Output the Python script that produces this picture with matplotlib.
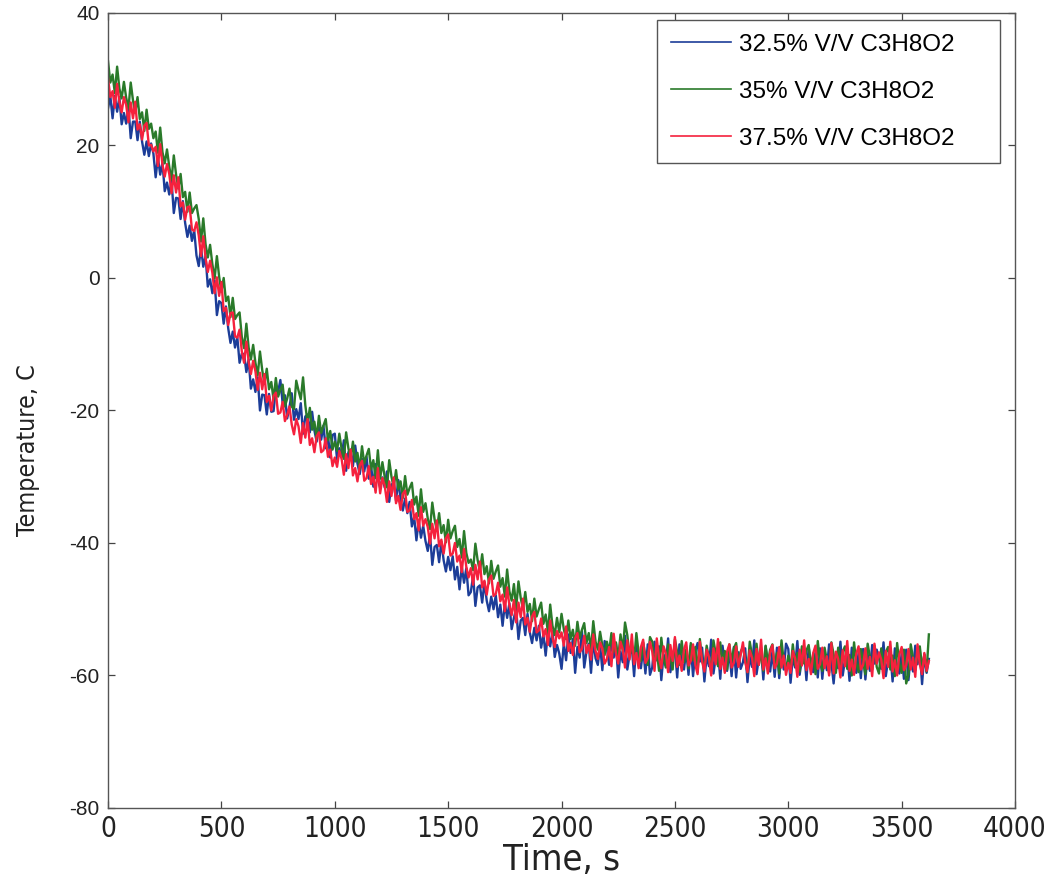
import matplotlib
matplotlib.use("Agg")
import matplotlib.pyplot as plt
from matplotlib import font_manager

# one reading every 10 s, 0 .. 3620 s
time_s = list(range(0, 3621, 10))

temp_325 = [
    25.6, 27.5, 24.1, 27.5, 25.1, 27.3, 23.2, 24.9, 23.3, 25.8, 21.1, 23.6, 23.6, 20.8, 23.6, 20.6, 18.6, 20.6, 18.4, 20.3,
    18.8, 15.2, 18.2, 15.6, 17.4, 13.1, 14.4, 12.6, 14.7, 9.8, 12.1, 12.0, 8.9, 11.6, 8.3, 6.2, 7.9, 5.6, 7.2, 3.4,
    1.8, 4.6, 1.7, 3.3, -1.3, -0.2, -2.3, -0.4, -5.6, -3.5, -3.8, -6.9, -4.3, -7.6, -9.8, -8.1, -10.5, -8.9, -12.8, -11.4,
    -11.5, -14.2, -12.3, -16.7, -15.3, -17.2, -15.0, -20.0, -17.6, -17.7, -20.6, -17.5, -20.2, -20.1, -16.6, -17.2, -15.4, -18.9, -17.7, -21.2,
    -19.5, -17.4, -21.4, -19.8, -21.3, -18.9, -23.5, -20.9, -20.6, -23.3, -20.2, -23.0, -24.7, -22.5, -24.4, -22.3, -25.7, -23.8, -27.1, -23.7,
    -23.5, -27.4, -25.7, -27.1, -24.5, -29.1, -26.3, -25.9, -28.4, -25.3, -28.0, -29.6, -27.3, -29.2, -27.0, -30.3, -28.3, -31.5, -28.1, -30.3,
    -31.7, -30.1, -31.6, -29.2, -33.8, -31.2, -30.9, -33.6, -30.5, -33.4, -35.1, -33.3, -35.5, -33.8, -37.5, -36.0, -39.6, -36.6, -39.2, -37.4,
    -39.7, -41.2, -38.7, -43.3, -40.6, -40.3, -42.9, -39.8, -42.6, -44.3, -42.1, -44.1, -42.0, -45.5, -43.6, -47.0, -43.6, -46.0, -43.8, -47.9,
    -47.4, -44.9, -49.5, -46.7, -46.4, -49.0, -45.9, -48.7, -50.3, -48.1, -50.0, -47.9, -51.2, -49.3, -52.5, -49.1, -51.3, -49.1, -53.0, -51.3,
    -49.9, -54.5, -51.7, -51.3, -53.9, -50.7, -53.5, -55.1, -52.8, -54.7, -52.5, -55.8, -53.8, -57.0, -53.4, -55.6, -53.3, -57.2, -55.4, -56.7,
    -59.0, -55.2, -57.7, -53.8, -56.6, -54.5, -59.6, -55.7, -57.3, -53.3, -58.8, -56.4, -55.2, -59.6, -54.6, -57.4, -58.4, -55.4, -59.2, -54.8,
    -55.9, -58.4, -54.5, -57.3, -55.2, -60.3, -56.4, -58.0, -54.0, -59.1, -56.9, -55.7, -60.1, -55.1, -57.9, -58.9, -55.9, -59.7, -55.3, -59.9,
    -58.8, -54.9, -57.7, -55.6, -60.7, -56.8, -58.4, -54.4, -59.5, -57.1, -55.9, -60.3, -55.3, -58.1, -59.1, -56.1, -59.9, -55.5, -60.1, -56.3,
    -55.1, -57.9, -55.8, -60.9, -57.0, -58.6, -54.6, -59.7, -57.3, -56.1, -60.5, -55.5, -58.3, -59.3, -56.3, -60.1, -55.7, -60.3, -56.5, -59.0,
    -58.0, -55.9, -61.0, -57.1, -58.7, -54.7, -59.8, -57.4, -56.2, -60.6, -55.6, -58.4, -59.4, -56.4, -60.2, -55.8, -60.4, -56.6, -59.1, -55.2,
    -56.0, -61.1, -57.2, -58.8, -54.8, -59.9, -57.5, -56.3, -60.7, -55.7, -58.5, -59.5, -56.5, -60.3, -55.9, -60.5, -56.7, -59.2, -55.3, -58.1,
    -61.2, -57.3, -58.9, -54.9, -60.0, -57.6, -56.4, -60.8, -55.8, -58.6, -59.6, -56.6, -60.4, -56.0, -60.6, -56.8, -59.3, -55.4, -58.2, -56.1,
    -57.4, -59.0, -55.0, -60.1, -57.7, -56.5, -60.9, -55.9, -58.7, -59.7, -56.7, -60.5, -56.1, -60.7, -56.9, -59.4, -55.5, -58.3, -56.2, -61.3,
    -56.8, -59.6, -57.5,
]

temp_35 = [
    32.7, 29.5, 30.7, 27.9, 31.9, 28.6, 27.1, 29.6, 27.2, 25.6, 29.5, 26.8, 24.9, 27.3, 24.0, 25.0, 22.2, 25.4, 22.5, 23.3,
    21.1, 22.1, 18.9, 22.7, 19.0, 17.3, 19.4, 16.8, 14.8, 18.5, 15.6, 13.5, 15.7, 12.2, 13.0, 10.0, 12.9, 9.8, 10.5, 11.0,
    8.9, 5.5, 9.0, 5.1, 3.1, 5.0, 2.1, -0.1, 3.3, 0.2, -2.1, 0.0, -3.5, -2.8, -5.9, -3.0, -6.2, -5.6, -5.2, -8.9,
    -10.6, -6.9, -10.5, -12.3, -10.1, -12.8, -14.7, -11.1, -13.9, -16.0, -13.7, -16.8, -15.7, -18.4, -15.1, -17.9, -16.9, -16.1, -19.4, -18.2,
    -16.7, -19.4, -19.8, -15.5, -17.0, -18.3, -15.0, -19.2, -21.9, -19.6, -22.9, -21.7, -24.2, -20.8, -23.4, -22.3, -21.3, -24.5, -23.1, -25.9,
    -24.7, -26.1, -23.5, -25.8, -27.3, -23.3, -25.7, -27.4, -24.7, -27.7, -26.4, -28.9, -25.4, -28.0, -26.8, -25.8, -28.9, -27.5, -30.2, -26.0,
    -30.3, -27.8, -30.0, -31.6, -27.5, -30.0, -31.6, -29.0, -31.9, -30.7, -33.2, -29.9, -32.7, -31.7, -30.9, -34.2, -33.0, -35.9, -31.9, -35.3,
    -34.0, -36.3, -37.9, -33.9, -36.4, -38.1, -35.5, -38.5, -37.3, -39.9, -36.5, -39.3, -38.2, -37.4, -40.6, -39.4, -42.2, -38.2, -41.5, -43.0,
    -42.5, -44.1, -40.1, -42.6, -44.3, -41.7, -44.7, -43.5, -46.1, -42.7, -45.4, -44.3, -43.4, -46.6, -45.3, -48.1, -44.0, -47.3, -48.7, -46.2,
    -49.8, -45.8, -48.3, -50.0, -47.4, -50.4, -49.2, -51.8, -48.4, -51.1, -50.0, -49.0, -52.2, -50.8, -53.5, -49.3, -52.5, -53.9, -51.3, -53.5,
    -50.7, -53.0, -54.5, -51.7, -54.5, -53.1, -55.5, -51.9, -54.4, -53.1, -52.1, -55.1, -53.6, -56.1, -51.8, -54.9, -56.1, -53.4, -55.5, -56.9,
    -54.9, -56.4, -53.6, -56.4, -55.0, -57.4, -53.8, -56.3, -52.0, -53.9, -56.9, -55.4, -57.9, -53.6, -56.6, -57.8, -55.0, -57.1, -58.4, -54.2,
    -54.9, -58.3, -56.2, -59.3, -54.3, -57.5, -58.8, -55.3, -57.2, -59.1, -54.5, -56.5, -58.4, -54.8, -58.0, -56.1, -58.9, -55.1, -57.7, -55.7,
    -59.5, -54.5, -57.7, -59.0, -55.5, -57.4, -59.3, -54.7, -56.7, -58.6, -55.0, -58.2, -56.3, -59.1, -55.3, -57.9, -55.9, -55.1, -58.5, -56.4,
    -55.7, -57.6, -59.5, -54.9, -56.9, -58.8, -55.2, -58.4, -56.5, -59.3, -55.5, -58.1, -56.1, -55.3, -58.7, -56.6, -59.7, -54.7, -57.9, -59.2,
    -57.0, -58.9, -55.3, -58.5, -56.6, -59.4, -55.6, -58.2, -56.2, -55.4, -58.8, -56.7, -59.8, -54.8, -58.0, -59.3, -55.8, -57.7, -59.6, -55.0,
    -56.8, -59.6, -55.8, -58.4, -56.4, -55.6, -59.0, -56.9, -60.0, -55.0, -58.2, -59.5, -56.0, -57.9, -59.8, -55.2, -57.2, -59.1, -55.5, -58.7,
    -59.7, -55.9, -58.5, -56.5, -55.7, -59.1, -57.0, -60.1, -55.1, -58.3, -59.6, -56.1, -61.2, -59.9, -55.3, -57.3, -59.2, -56.4, -55.6, -58.8,
    -56.9, -59.4, -53.8,
]

temp_375 = [
    30.1, 27.3, 28.2, 25.7, 29.3, 26.6, 25.0, 27.3, 26.1, 23.5, 26.5, 24.1, 26.6, 22.4, 23.2, 20.9, 23.0, 23.4, 20.0, 20.1,
    19.1, 19.8, 16.9, 20.2, 17.1, 15.3, 17.2, 15.7, 12.8, 15.5, 12.9, 15.2, 10.8, 11.4, 8.8, 10.7, 10.8, 7.3, 7.1, 8.4,
    6.4, 3.3, 6.3, 3.0, 0.9, 2.6, 0.8, -2.3, 0.1, -2.7, -0.6, -5.0, -4.5, -7.1, -5.3, -5.2, -8.8, -9.0, -7.8, -11.1,
    -12.8, -9.6, -12.6, -14.5, -12.5, -14.1, -16.9, -14.3, -16.8, -14.5, -18.7, -17.8, -20.0, -17.8, -17.3, -20.5, -20.3, -18.7, -21.6, -20.7,
    -19.4, -22.1, -23.6, -21.3, -22.4, -24.9, -21.9, -24.1, -21.3, -25.2, -24.2, -26.3, -23.9, -23.3, -26.3, -26.0, -24.2, -27.0, -25.9, -28.4,
    -27.1, -28.5, -26.1, -27.3, -29.7, -26.6, -28.7, -25.9, -29.8, -28.7, -30.7, -28.3, -27.6, -30.6, -30.2, -28.4, -31.1, -30.0, -32.4, -28.7,
    -32.5, -30.2, -31.3, -33.8, -30.7, -32.9, -30.1, -34.0, -32.9, -35.0, -32.6, -32.1, -35.3, -35.1, -33.5, -36.4, -35.5, -38.1, -34.6, -37.4,
    -36.4, -37.6, -40.1, -37.1, -39.3, -36.6, -40.5, -39.5, -41.6, -39.3, -38.7, -41.9, -41.6, -40.0, -42.8, -41.9, -44.4, -40.9, -43.6, -45.2,
    -43.8, -46.3, -43.3, -45.5, -42.8, -46.7, -45.7, -47.8, -45.5, -44.9, -48.0, -47.7, -46.0, -48.8, -47.8, -50.3, -46.7, -49.4, -50.9, -48.6,
    -52.0, -49.0, -51.2, -48.4, -52.3, -51.3, -53.4, -51.1, -50.4, -53.5, -53.2, -51.4, -54.1, -53.0, -55.4, -51.7, -54.3, -55.7, -53.3, -54.4,
    -53.5, -55.5, -52.6, -56.3, -55.1, -56.9, -54.4, -53.6, -56.5, -56.0, -54.0, -56.6, -55.4, -57.6, -53.8, -56.3, -57.5, -55.0, -55.9, -58.2,
    -57.5, -55.7, -58.6, -53.7, -56.7, -58.2, -54.9, -56.0, -58.8, -54.7, -57.6, -53.8, -58.3, -56.6, -58.9, -55.7, -54.6, -58.1, -57.4, -54.9,
    -56.4, -59.3, -54.4, -57.4, -58.9, -55.6, -56.7, -59.5, -55.4, -57.8, -54.2, -58.7, -57.0, -59.3, -56.1, -55.0, -58.5, -57.8, -55.3, -58.4,
    -59.8, -54.9, -57.9, -59.4, -56.1, -57.2, -60.0, -55.9, -58.3, -54.5, -59.0, -57.3, -59.6, -56.4, -55.3, -58.8, -58.1, -55.6, -58.7, -56.9,
    -55.0, -58.0, -59.5, -56.2, -57.3, -60.1, -56.0, -58.4, -54.6, -59.1, -57.4, -59.7, -56.5, -55.4, -58.9, -58.2, -55.7, -58.8, -57.0, -59.9,
    -58.1, -59.6, -56.3, -57.4, -60.2, -56.1, -58.5, -54.7, -59.2, -57.5, -59.8, -56.6, -55.5, -59.0, -58.3, -55.8, -58.9, -57.1, -60.0, -55.1,
    -59.7, -56.4, -57.5, -60.3, -56.2, -58.6, -54.8, -59.3, -57.6, -59.9, -56.7, -55.6, -59.1, -58.4, -55.9, -59.0, -57.2, -60.1, -55.2, -58.2,
    -56.5, -57.6, -60.4, -56.3, -58.7, -54.9, -59.4, -57.7, -60.0, -56.8, -55.7, -59.2, -58.5, -56.0, -59.1, -57.3, -60.2, -55.3, -58.3, -59.8,
    -56.6, -59.3, -57.8,
]

labels = ["32.5% V/V C3H8O2", "35% V/V C3H8O2", "37.5% V/V C3H8O2"]
colors = ["#1c3d98", "#2a7a2a", "#f5213d"]

x_ticks = [0, 500, 1000, 1500, 2000, 2500, 3000, 3500, 4000]
y_ticks = [-80, -60, -40, -20, 0, 20, 40]

installed = {f.name for f in font_manager.fontManager.ttflist}
narrow = "Liberation Sans Narrow" if "Liberation Sans Narrow" in installed else "DejaVu Sans"
plain = "Liberation Sans" if "Liberation Sans" in installed else "DejaVu Sans"

fig = plt.figure(figsize=(10.5, 8.88), dpi=100)
ax = fig.add_axes([0.1029, 0.0901, 0.8638, 0.8953])

lines = []
for series, c, lab in zip([temp_325, temp_35, temp_375], colors, labels):
    ln, = ax.plot(time_s, series, color=c, lw=1.7, label=lab)
    lines.append(ln)

ax.set_xlim(0, 4000)
ax.set_ylim(-80, 40)
ax.set_xticks(x_ticks)
ax.set_yticks(y_ticks)
ax.set_xticklabels([str(v) for v in x_ticks], family=narrow, stretch="condensed", fontsize=20)
ax.set_yticklabels([str(v) for v in y_ticks], family=plain, fontsize=15)
ax.tick_params(direction="in", length=5, width=0.9, top=True, right=True,
               colors="#444444", labelcolor="#222222")
ax.tick_params(axis="x", pad=5)
ax.tick_params(axis="y", pad=6)
for s in ax.spines.values():
    s.set_color("#555555")
    s.set_linewidth(1.0)

ax.set_xlabel("Time, s", family=narrow, stretch="condensed", fontsize=26,
              color="#222222", labelpad=0)
ax.set_ylabel("Temperature, C", family=narrow, stretch="condensed", fontsize=18,
              color="#222222")
ax.yaxis.set_label_coords(-0.075, 0.45)

# MATLAB-style legend box with spare room on the right
leg = ax.legend(handles=lines, loc="upper left",
                bbox_to_anchor=(657 / 1050, 1 - 163 / 888, 343 / 1050, 143 / 888),
                bbox_transform=fig.transFigure, mode="expand", borderaxespad=0,
                prop={"family": plain, "size": 17.5}, fancybox=False,
                edgecolor="#555555", framealpha=1, handlelength=2.5,
                handletextpad=0.3, labelspacing=1.03, borderpad=0.56)
for h in leg.legend_handles:
    h.set_linewidth(1.2)
leg.get_frame().set_linewidth(1.0)

fig.savefig("out.png", dpi=100)
